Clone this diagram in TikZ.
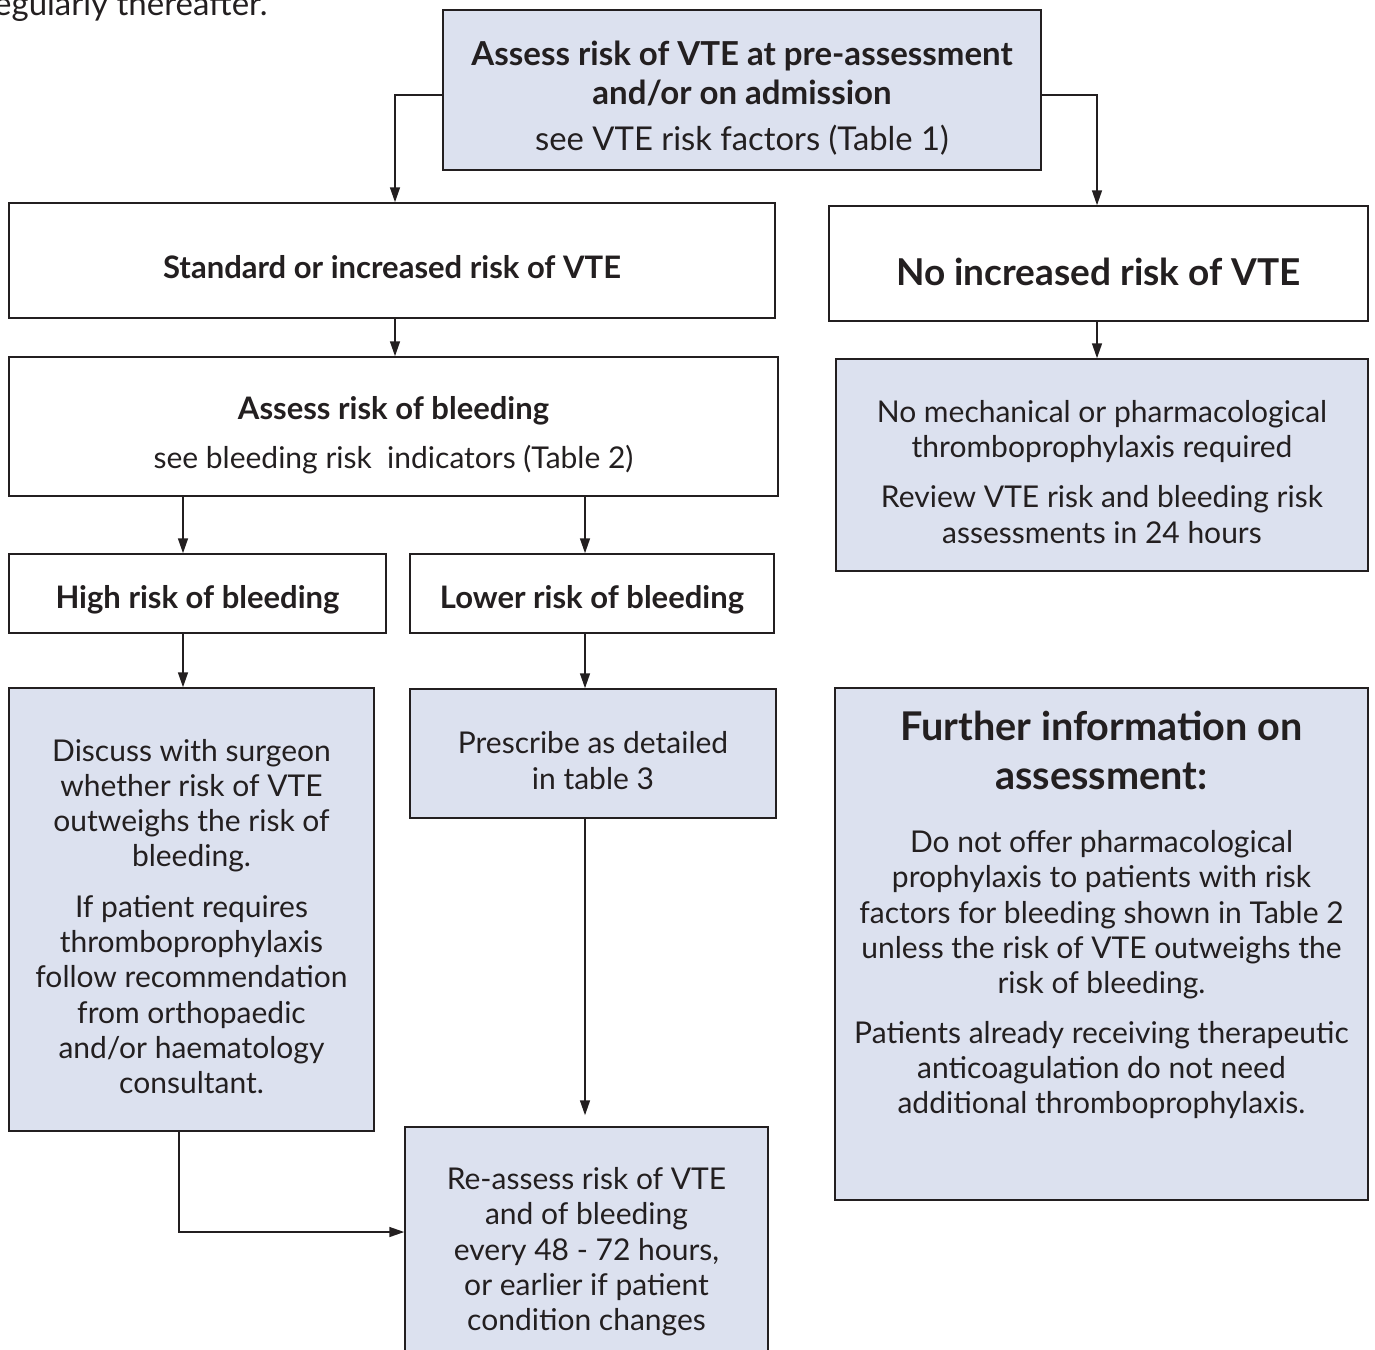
\documentclass[tikz,border=0pt]{standalone}
\usepackage{fontspec}
\setmainfont{Lato}
\usetikzlibrary{arrows.meta}
\newcommand\fuentetitulo{\fontsize{19.8}{24.5}\selectfont\bfseries}
\newcommand\negrita[1]{{\fontsize{15.5}{17.65}\selectfont\bfseries #1}}
\newcommand\tope[1][18pt]{\rule{0pt}{#1}}

\begin{document}
\begin{tikzpicture}[x=0.5pt,y=-0.5pt,
    caja/.style={draw=linea,line width=0.75pt,fill=white,align=center,inner sep=0pt,
      text=texto,font=\fontsize{15}{17.65}\selectfont},
    cajaazul/.style={caja,fill=azul},
    flecha/.style={draw=linea,line width=0.75pt,-{Triangle[length=7.5pt,width=5pt]}}]
        %colores
        \colorlet{azul}{rgb,255:red,220;green,225;blue,239}
        \colorlet{linea}{rgb,255:red,35;green,31;blue,32}
        \colorlet{texto}{rgb,255:red,35;green,31;blue,32}

        % marco
        \useasboundingbox (0,0) rectangle (1375,1349);
        \clip (0,0) rectangle (1375,1349);

        % texto cortado arriba
        \node[anchor=base east,text=texto,font=\fontsize{16.5}{17.65}\selectfont,inner sep=0pt] (previo) at (268,15) {regularly thereafter.};

        % columna izquierda
        \node[cajaazul,minimum width=299pt,minimum height=80pt] (eval) at (742,90)
            {\tope[20pt]{\fontsize{16.5}{17.65}\selectfont\bfseries Assess risk of VTE at pre-assessment}\\[1.85pt]
             {\fontsize{16.5}{17.65}\selectfont\bfseries and/or on admission}\\[5.35pt]
             {\fontsize{16.4}{17.65}\selectfont see VTE risk factors (Table 1)}};
        \node[caja,minimum width=383pt,minimum height=57.5pt] (std) at (392,260.5)
            {\tope\negrita{Standard or increased risk of VTE}};
        \node[caja,minimum width=384.5pt,minimum height=69.5pt] (sangrado) at (393.5,426.5)
            {\tope[20pt]\negrita{Assess risk of bleeding}\\[6.85pt]
             see bleeding risk\ \ indicators (Table 2)};
        \node[caja,minimum width=188.5pt,minimum height=39.5pt] (alto) at (197.5,593.5)
            {\tope\negrita{High risk of bleeding}};
        \node[caja,minimum width=182pt,minimum height=39.5pt] (bajo) at (592,593.5)
            {\tope\negrita{Lower risk of bleeding}};
        \node[cajaazul,minimum width=182.5pt,minimum height=221.5pt] (cirujano) at (191.5,909.5)
            {\tope Discuss with surgeon\\ whether risk of VTE\\ outweighs the risk of\\ bleeding.\\[7.5pt]
             If patient requires\\ thromboprophylaxis\\ follow recommendation\\ from orthopaedic\\
             and/or haematology\\ consultant.};
        \node[cajaazul,minimum width=183pt,minimum height=64.5pt] (receta) at (593,753.5)
            {\tope Prescribe as detailed\\ in table 3};
        \node[cajaazul,minimum width=181.5pt,minimum height=121pt] (revision) at (586.5,1248)
            {\tope[15pt]Re-assess risk of VTE\\ and of bleeding\\ every 48 - 72 hours,\\
             or earlier if patient\\ condition changes};

        % columna derecha
        \node[caja,minimum width=269.5pt,minimum height=57.5pt,font=\fontsize{18.5}{20}\selectfont\bfseries] (nada) at (1098.5,263.5)
            {\tope[22pt]No increased risk of VTE};
        \node[cajaazul,minimum width=266pt,minimum height=106pt] (sinprof) at (1102,465)
            {\tope No mechanical or pharmacological\\ thromboprophylaxis required\\[7.35pt]
             Review VTE risk and bleeding risk\\ assessments in 24 hours};
        \node[cajaazul,minimum width=266.5pt,minimum height=256pt] (info) at (1101.5,944) {};
        \node[align=center,text=texto,font=\fontsize{15}{17.65}\selectfont,inner sep=0pt] (infotxt) at (1101.5,915)
            {{\fuentetitulo Further information on}\\[6.85pt]
             {\fuentetitulo assessment:}\\[13.85pt]
             Do not offer pharmacological\\ prophylaxis to patients with risk\\
             factors for bleeding shown in Table 2\\ unless the risk of VTE outweighs the\\
             risk of bleeding.\\[7pt]
             Patients already receiving therapeutic\\ anticoagulation do not need\\
             additional thromboprophylaxis.};

        % flechas
        \draw[flecha] ([yshift=-2.5pt]eval.west) -| ([xshift=1.5pt]std.north);
        \draw[flecha] ([yshift=-2.5pt]eval.east) -| ([xshift=-0.75pt]nada.north);
        \draw[flecha] ([xshift=1.5pt]std.south) -- ([xshift=1.5pt]std.south |- sangrado.north);
        \draw[flecha] ([xshift=-0.75pt]nada.south) -- ([xshift=-0.75pt]nada.south |- sinprof.north);
        \draw[flecha] ([xshift=-7.25pt]alto.north |- sangrado.south) -- ([xshift=-7.25pt]alto.north);
        \draw[flecha] ([xshift=-3.5pt]bajo.north |- sangrado.south) -- ([xshift=-3.5pt]bajo.north);
        \draw[flecha] ([xshift=-7.25pt]alto.south) -- ([xshift=-7.25pt]alto.south |- cirujano.north);
        \draw[flecha] ([xshift=-3.5pt]bajo.south) -- ([xshift=-3.5pt]bajo.south |- receta.north);
        \draw[flecha,shorten >=5.5pt] ([xshift=-4pt]receta.south) -- ([xshift=-4pt]receta.south |- revision.north);
        \draw[flecha] ([xshift=-6.25pt]cirujano.south) |- ([yshift=8pt]revision.west);
    \end{tikzpicture}
\end{document}
